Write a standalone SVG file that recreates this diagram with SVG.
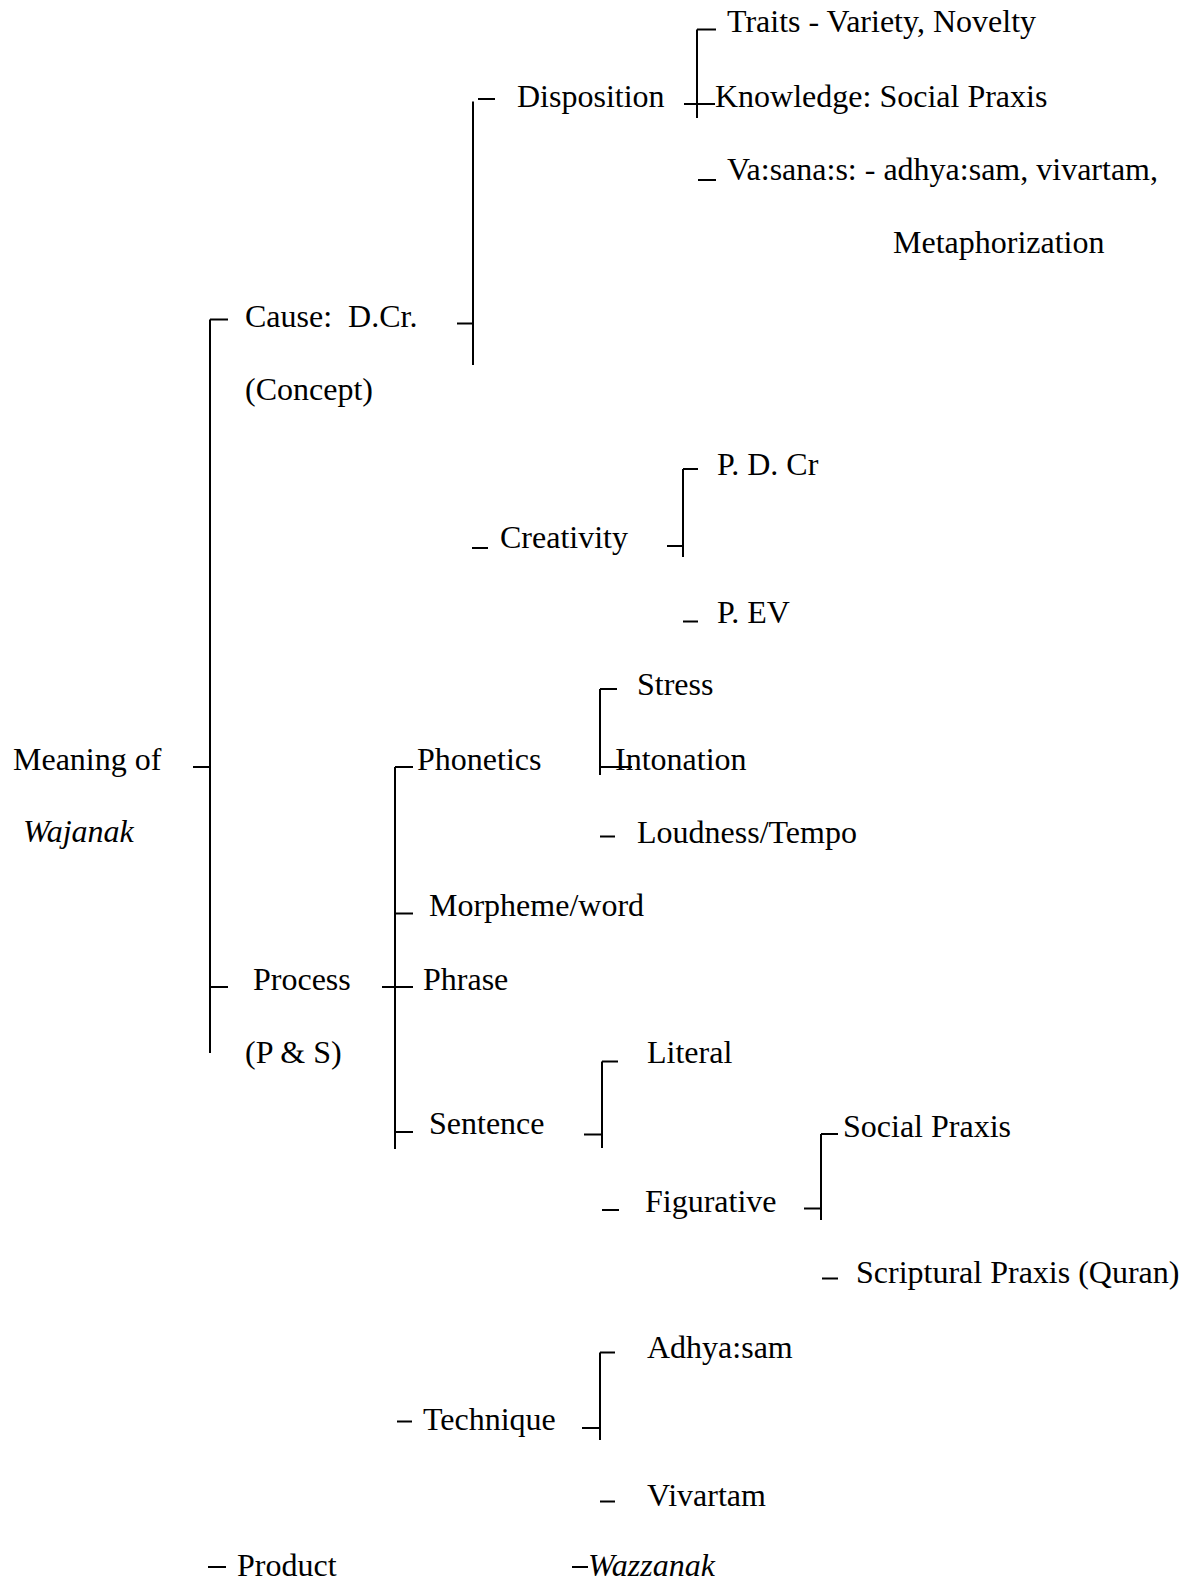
<svg xmlns="http://www.w3.org/2000/svg" width="1184" height="1586" viewBox="0 0 1184 1586">
<style>
text{font-family:"Liberation Serif","Times New Roman",serif;font-size:32px;fill:#000;white-space:pre}
.it{font-style:italic}
#connectors line{stroke:#000;stroke-width:2;fill:none}
</style>
<rect width="1184" height="1586" fill="#fff"/>
<g id="connectors">
<line x1="210" y1="319.5" x2="210" y2="1053"/>
<line x1="210" y1="319.5" x2="228" y2="319.5"/>
<line x1="193" y1="767" x2="210" y2="767"/>
<line x1="211" y1="987" x2="228" y2="987"/>
<line x1="457" y1="323.5" x2="473" y2="323.5"/>
<line x1="473" y1="101.5" x2="473" y2="365"/>
<line x1="478" y1="99" x2="495" y2="99"/>
<line x1="684" y1="104" x2="715" y2="104"/>
<line x1="697" y1="29.5" x2="697" y2="118"/>
<line x1="697" y1="29.5" x2="716" y2="29.5"/>
<line x1="698" y1="180" x2="716" y2="180"/>
<line x1="472" y1="548" x2="488" y2="548"/>
<line x1="667" y1="546" x2="683" y2="546"/>
<line x1="683" y1="469" x2="683" y2="557"/>
<line x1="683" y1="469" x2="698" y2="469"/>
<line x1="683" y1="621.5" x2="698" y2="621.5"/>
<line x1="395" y1="767" x2="395" y2="1149"/>
<line x1="395" y1="767" x2="413" y2="767"/>
<line x1="600" y1="689" x2="600" y2="775"/>
<line x1="600" y1="689" x2="617" y2="689"/>
<line x1="599" y1="767" x2="632" y2="767"/>
<line x1="600" y1="836.5" x2="615" y2="836.5"/>
<line x1="395" y1="913.5" x2="413" y2="913.5"/>
<line x1="382" y1="987" x2="413" y2="987"/>
<line x1="395" y1="1132" x2="413" y2="1132"/>
<line x1="584" y1="1134.5" x2="602" y2="1134.5"/>
<line x1="602" y1="1061.5" x2="602" y2="1148"/>
<line x1="602" y1="1061.5" x2="618" y2="1061.5"/>
<line x1="602" y1="1210" x2="619" y2="1210"/>
<line x1="804" y1="1208.5" x2="821" y2="1208.5"/>
<line x1="821" y1="1134" x2="821" y2="1220"/>
<line x1="821" y1="1134" x2="838" y2="1134"/>
<line x1="822" y1="1278.5" x2="838" y2="1278.5"/>
<line x1="397" y1="1421.5" x2="412" y2="1421.5"/>
<line x1="582" y1="1428" x2="600" y2="1428"/>
<line x1="600" y1="1352.5" x2="600" y2="1440"/>
<line x1="600" y1="1352.5" x2="615" y2="1352.5"/>
<line x1="600" y1="1501.5" x2="615" y2="1501.5"/>
<line x1="208" y1="1567" x2="226" y2="1567"/>
<line x1="572" y1="1567" x2="588" y2="1567"/>
</g>
<g id="n-meaning"><text x="13" y="770">Meaning of</text><text class="it" x="23" y="842">Wajanak</text></g>
<g id="n-cause"><text x="245" y="327">Cause:  D.Cr.</text><text x="245" y="400">(Concept)</text></g>
<g id="n-disposition"><text x="517" y="107">Disposition</text></g>
<g id="n-traits"><text x="727" y="32">Traits - Variety, Novelty</text></g>
<g id="n-knowledge"><text x="715" y="107">Knowledge: Social Praxis</text></g>
<g id="n-vasanas"><text x="727" y="180">Va:sana:s: - adhya:sam, vivartam,</text><text x="893" y="253">Metaphorization</text></g>
<g id="n-creativity"><text x="500" y="548">Creativity</text></g>
<g id="n-pdcr"><text x="717" y="475">P. D. Cr</text></g>
<g id="n-pev"><text x="717" y="623">P. EV</text></g>
<g id="n-process"><text x="253" y="990">Process</text><text x="245" y="1063">(P &amp; S)</text></g>
<g id="n-phonetics"><text x="417" y="770">Phonetics</text></g>
<g id="n-stress"><text x="637" y="695">Stress</text></g>
<g id="n-intonation"><text x="615" y="770">Intonation</text></g>
<g id="n-loudness"><text x="637" y="843">Loudness/Tempo</text></g>
<g id="n-morpheme"><text x="429" y="916">Morpheme/word</text></g>
<g id="n-phrase"><text x="423" y="990">Phrase</text></g>
<g id="n-sentence"><text x="429" y="1134">Sentence</text></g>
<g id="n-literal"><text x="647" y="1063">Literal</text></g>
<g id="n-figurative"><text x="645" y="1212">Figurative</text></g>
<g id="n-social"><text x="843" y="1137">Social Praxis</text></g>
<g id="n-scriptural"><text x="856" y="1283">Scriptural Praxis (Quran)</text></g>
<g id="n-technique"><text x="423" y="1430">Technique</text></g>
<g id="n-adhyasam"><text x="647" y="1358">Adhya:sam</text></g>
<g id="n-vivartam"><text x="647" y="1506">Vivartam</text></g>
<g id="n-product"><text x="237" y="1576">Product</text></g>
<g id="n-wazzanak"><text class="it" x="588" y="1576">Wazzanak</text></g>
</svg>
